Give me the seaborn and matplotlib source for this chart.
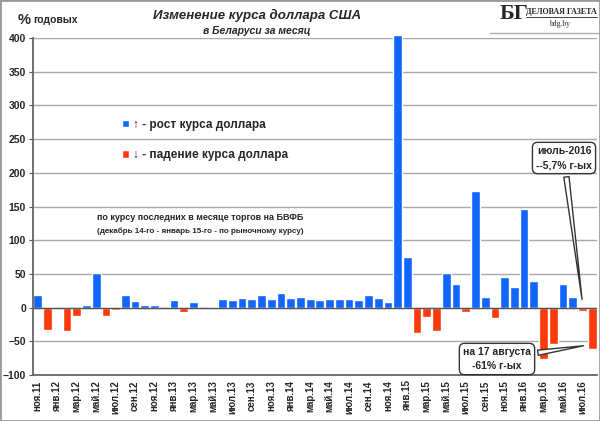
import matplotlib
matplotlib.use("Agg")
import matplotlib.pyplot as plt
import seaborn as sns
import pandas as pd
from matplotlib.patches import Rectangle

months = ["ноя.11", "дек.11", "янв.12", "фев.12", "мар.12", "апр.12", "май.12", "июн.12",
          "июл.12", "авг.12", "сен.12", "окт.12", "ноя.12", "дек.12", "янв.13", "фев.13",
          "мар.13", "апр.13", "май.13", "июн.13", "июл.13", "авг.13", "сен.13", "окт.13",
          "ноя.13", "дек.13", "янв.14", "фев.14", "мар.14", "апр.14", "май.14", "июн.14",
          "июл.14", "авг.14", "сен.14", "окт.14", "ноя.14", "дек.14", "янв.15", "фев.15",
          "мар.15", "апр.15", "май.15", "июн.15", "июл.15", "авг.15", "сен.15", "окт.15",
          "ноя.15", "дек.15", "янв.16", "фев.16", "мар.16", "апр.16", "май.16", "июн.16",
          "июл.16", "авг.16"]
change = [19, -33, 0, -34, -12, 4, 52, -12,
          -3, 18, 10, 4, 4, 0, 11, -7,
          9, 0, 1.5, 13, 11, 14, 13, 18,
          13, 22, 14, 15, 13, 12, 13, 13,
          13, 12, 18, 14, 9, 404, 75, -38,
          -14, -34, 51, 35, -6, 173, 16, -16,
          45, 31, 146, 39, -76, -54, 35, 16,
          -5.7, -61]
up_label = "↑ - рост курса доллара"
down_label = "↓ - падение курса доллара"

df = pd.DataFrame({"month": months, "change": change})
df["dir"] = [up_label if v >= 0 else down_label for v in change]

sns.set_style("white")
plt.rcParams['font.family'] = ['Liberation Sans', 'DejaVu Sans']

fig = plt.figure(figsize=(6, 4.21), dpi=100)
ax = fig.add_axes([0.055, 0.1093, 0.94, 0.8004])

sns.barplot(data=df, x="month", y="change", hue="dir", order=months,
            hue_order=[up_label, down_label],
            palette={up_label: "#1166ff", down_label: "#ff3a0a"},
            dodge=False, width=0.9, saturation=1, ax=ax)
for p in ax.patches:
    p.set_clip_on(False)

ax.set_ylim(-100, 400)
ax.set_xlim(-0.5, len(months) - 0.5)
ax.set_yticks(range(-100, 401, 50))
ax.yaxis.grid(True, color="#a8a8a8", lw=1)
ax.set_axisbelow(True)
ax.axhline(0, color="#555555", lw=1, zorder=1)
ax.set_xlabel("")
ax.set_ylabel("")
ax.set_xticks(range(0, len(months), 2))
ax.set_xticklabels(months[::2], rotation=90, fontsize=7, fontweight="bold")
ax.tick_params(axis="x", length=0, pad=4)
ax.tick_params(axis="y", length=3, labelsize=7.5, pad=2, left=True, color="#555555")
for lab in ax.get_yticklabels():
    lab.set_fontweight("bold")
sns.despine(ax=ax, top=True, right=True)
ax.spines["left"].set_color("#666666")
ax.spines["left"].set_linewidth(1.3)
ax.spines["bottom"].set_color("#666666")
ax.spines["bottom"].set_linewidth(1.3)

handles, labels = ax.get_legend_handles_labels()
ax.legend(handles, labels, loc="upper left", bbox_to_anchor=(111 / 600, 1 - 108 / 421),
          bbox_transform=fig.transFigure, frameon=False, handlelength=0.6, handleheight=0.6,
          handletextpad=0.35, labelspacing=1.55, prop={"size": 8.5, "weight": "bold"})

fig.text(257 / 600, 1 - 15 / 421, "Изменение курса доллара США", ha="center", va="center",
         fontsize=9.5, fontweight="bold", fontstyle="italic")
fig.text(257 / 600, 1 - 31 / 421, "в Беларуси за месяц", ha="center", va="center",
         fontsize=7.5, fontweight="bold", fontstyle="italic")
fig.text(18 / 600, 1 - 20 / 421, "%", ha="left", va="center", fontsize=10.5, fontweight="bold")
fig.text(33 / 600, 1 - 20 / 421, "годовых", ha="left", va="center", fontsize=7.5, fontweight="bold")

fig.text(200 / 600, 1 - 218 / 421, "по курсу последних в месяце торгов на БВФБ",
         ha="center", va="center", fontsize=6.5, fontweight="bold")
fig.text(200 / 600, 1 - 231 / 421, "(декабрь 14-го - январь 15-го - по рыночному курсу)",
         ha="center", va="center", fontsize=5.8, fontweight="bold")

# logo
fig.text(514 / 600, 1 - 14 / 421, "БГ", ha="center", va="center", fontsize=16,
         fontweight="bold", family="Liberation Serif")
fig.text(561 / 600, 1 - 12 / 421, "ДЕЛОВАЯ ГАЗЕТА", ha="center", va="center", fontsize=5.8,
         fontweight="bold", family="Liberation Serif")
fig.add_artist(plt.Line2D([526 / 600, 597 / 600], [1 - 17 / 421, 1 - 17 / 421],
                          color="#222222", lw=0.6))
fig.text(560 / 600, 1 - 24 / 421, "bdg.by", ha="center", va="center", fontsize=5.5,
         family="Liberation Serif")
fig.add_artist(plt.Line2D([490 / 600, 598 / 600], [1 - 33 / 421, 1 - 33 / 421],
                          color="#b0b0b0", lw=1))

box = dict(boxstyle="round,pad=0.35,rounding_size=0.5", fc="white", ec="#333333", lw=1)
ax.annotate("июль-2016\n--5,7% г-ых", xy=(56, 8), xytext=(564, 421 - 158),
            textcoords="figure pixels", ha="center", va="center", fontsize=7.5,
            fontweight="bold", linespacing=1.5, bbox=box,
            arrowprops=dict(arrowstyle="wedge,tail_width=0.5", fc="white", ec="#333333", lw=1))
ax.annotate("на 17 августа\n-61% г-ых", xy=(56.4, -56), xytext=(497, 421 - 359),
            textcoords="figure pixels", ha="center", va="center", fontsize=7.5,
            fontweight="bold", linespacing=1.5, bbox=box,
            arrowprops=dict(arrowstyle="wedge,tail_width=0.5", fc="white", ec="#333333", lw=1))

fig.add_artist(Rectangle((0, 0), 1, 1, transform=fig.transFigure, fill=False,
                         ec="#9a9a9a", lw=2))

plt.savefig("out.png", dpi=100)
